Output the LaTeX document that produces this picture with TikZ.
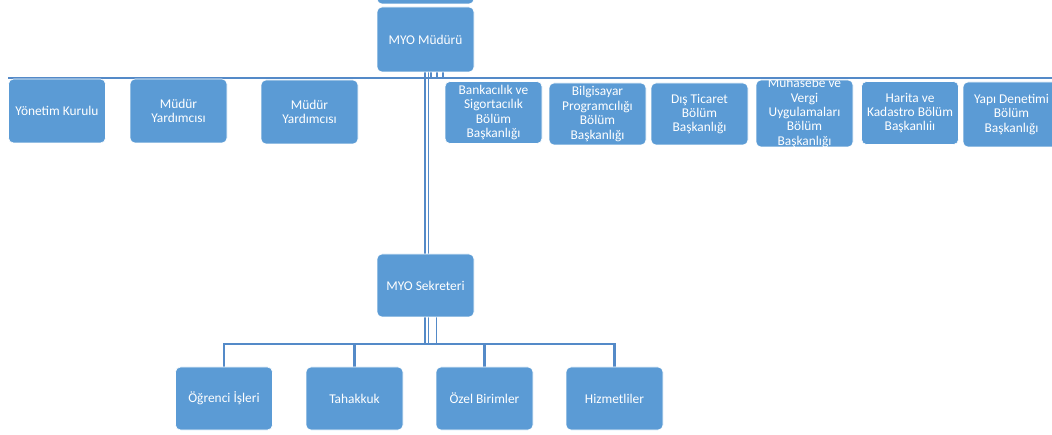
\documentclass[tikz,border=0pt]{standalone}
\usepackage{fontspec}
\setmainfont{Carlito}
\definecolor{boxblue}{RGB}{91,155,213}
\definecolor{linkblue}{RGB}{84,138,200}
\pgfdeclarelayer{background}
\pgfsetlayers{background,main}
\begin{document}
\begin{tikzpicture}[x=1pt,y=-1pt,
  box/.style={draw=white, line width=0.6pt, fill=boxblue, rounded corners=5pt,
    minimum width=97pt, minimum height=#1, inner sep=0pt, text=white,
    font=\fontsize{13.4}{14.4}\selectfont, align=center},
  box/.default=64pt,
  boxtext/.style={text=white, inner sep=0pt, font=\fontsize{13.4}{14.4}\selectfont, align=center},
  link/.style={draw=linkblue, line width=2.2pt},
  thinlink/.style={draw=linkblue, line width=1.3pt}]
\useasboundingbox (0,0) rectangle (1052,435);
\clip (0,0) rectangle (1052,435);

% top row
\node[box=24pt] (topbox) at (425.5,-8) {};
\node[box=65pt] (mud) at (425.5,39.5) {MYO Müdürü};
\node[box] (yk) at (57,111) {Yönetim Kurulu};
\node[box] (my1) at (178.5,111) {Müdür\\Yardımcısı};
\node[box] (my2) at (309.5,112) {Müdür\\Yardımcısı};
\node[box=62pt] (bank) at (493.5,112.5) {Bankacılık ve\\Sigortacılık\\Bölüm\\Başkanlığı};
\node[box=62pt] (bilg) at (597.5,114) {Bilgisayar\\Programcılığı\\Bölüm\\Başkanlığı};
\node[box=62pt] (dis) at (699.5,114) {Dış Ticaret\\Bölüm\\Başkanlığı};
\node[box=67pt] (muh) at (804.5,113.5) {};
\begin{scope}
  \clip[rounded corners=5pt] (muh.north west) rectangle (muh.south east);
  \node[boxtext] (muhtext) at ([yshift=0.5pt]muh.center) {Muhasebe ve\\Vergi\\Uygulamaları\\Bölüm\\Başkanlığı};
\end{scope}
\node[box=63pt] (har) at (910,113) {Harita ve\\Kadastro Bölüm\\Başkanlıiı};
\node[box=65pt] (yapi) at (1011.5,114.5) {Yapı Denetimi\\Bölüm\\Başkanlığı};

% secretary and bottom row
\node[box=63pt] (sek) at (425.5,285.5) {MYO Sekreteri};
\node[box=63pt] (ogr) at (224,398.5) {Öğrenci İşleri};
\node[box=63pt] (tah) at (354.5,398.5) {Tahakkuk};
\node[box=63pt] (ozel) at (484.5,398.5) {Özel Birimler};
\node[box=63pt] (hiz) at (614.5,398.5) {Hizmetliler};

\coordinate (topbus) at (425.5,78);
\coordinate (tl) at (8,78);
\coordinate (tr) at (1052,78);
\coordinate (bus) at (425.5,344);

\begin{pgfonlayer}{background}
  % top bus
  \draw[link] (tl) -- (tr);
  % stubs under MYO Müdürü
  \foreach \dx in {5.5,11.5,17.5} {
    \draw[thinlink] ([xshift=\dx pt]mud.south) -- ([xshift=\dx pt]topbus);
  }
  % double line from Müdür to Sekreter
  \draw[thinlink] ([xshift=-0.5pt]mud.south) -- ([xshift=-0.5pt]sek.north);
  \draw[thinlink] ([xshift=3pt]mud.south) -- ([xshift=3pt]sek.north);
  % lines under Sekreter
  \foreach \dx in {-0.5,3,11} {
    \draw[thinlink] ([xshift=\dx pt]sek.south) -- ([xshift=\dx pt]bus);
  }
  \draw[link] (ogr.north) -- (ogr.north |- bus) -- (hiz.north |- bus) -- (hiz.north);
  \draw[link] (tah.north) -- (tah.north |- bus);
  \draw[link] (ozel.north) -- (ozel.north |- bus);
\end{pgfonlayer}
\end{tikzpicture}
\end{document}
